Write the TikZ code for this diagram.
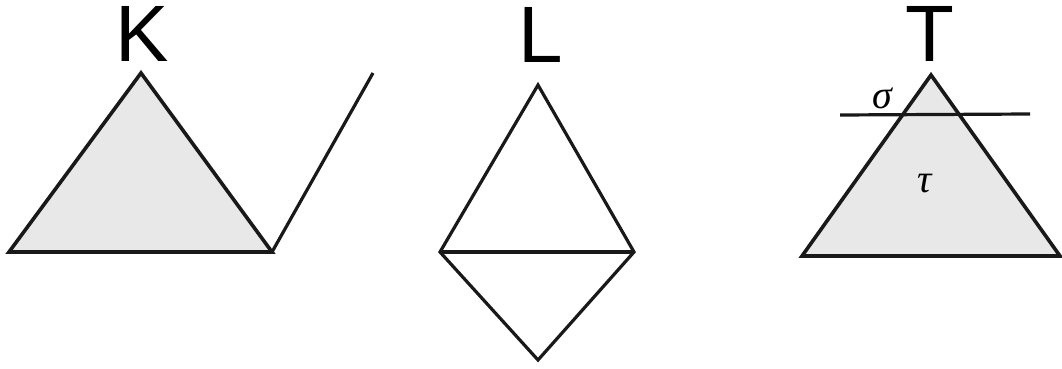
\documentclass[tikz,border=0pt]{standalone}
\usepackage{fontspec}
\setmainfont{Liberation Sans}
\newfontfamily\greekserif{Liberation Serif}
\begin{document}
\begin{tikzpicture}[x=1pt,y=-1pt,
  edge/.style={line width=3.6pt,line join=miter,black!90},
  thinedge/.style={edge,line width=3.2pt},
  simp/.style={edge,fill=gray!18},
  biglabel/.style={font=\fontsize{80}{80}\selectfont,inner sep=0pt,anchor=base},
  greek/.style={font=\greekserif\itshape\fontsize{40}{40}\selectfont,inner sep=0pt}]
\useasboundingbox (0,0) rectangle (1062,369);
% K
\coordinate (k1) at (9,252);
\coordinate (k2) at (141,73);
\coordinate (k3) at (272,252);
\coordinate (k4) at (373,73);
\draw[simp] (k1) -- (k2) -- (k3) -- cycle;
\draw[thinedge] (k3) -- (k4);
\node[biglabel] (K) at (142,62) {K};
% L
\coordinate (l1) at (538,85);
\coordinate (l2) at (440,252);
\coordinate (l3) at (634,252);
\coordinate (l4) at (538,360);
\draw[thinedge] (l2) -- (l1) -- (l3) -- (l4) -- cycle;
\draw[thinedge] (l2) -- (l3);
\node[biglabel] (L) at (541,63) {L};
% T
\coordinate (t1) at (802,256);
\coordinate (t2) at (931,75);
\coordinate (t3) at (1060,256);
\draw[simp] (t1) -- (t2) -- (t3) -- cycle;
\coordinate (s1) at (840,115);
\coordinate (s2) at (1030,114);
\draw[thinedge] (s1) -- (s2);
\node[biglabel] (T) at (930,62) {T};
\node[greek] (sigma) at (882,98) {σ};
\node[greek] (tau) at (925,184) {τ};
\end{tikzpicture}
\end{document}
